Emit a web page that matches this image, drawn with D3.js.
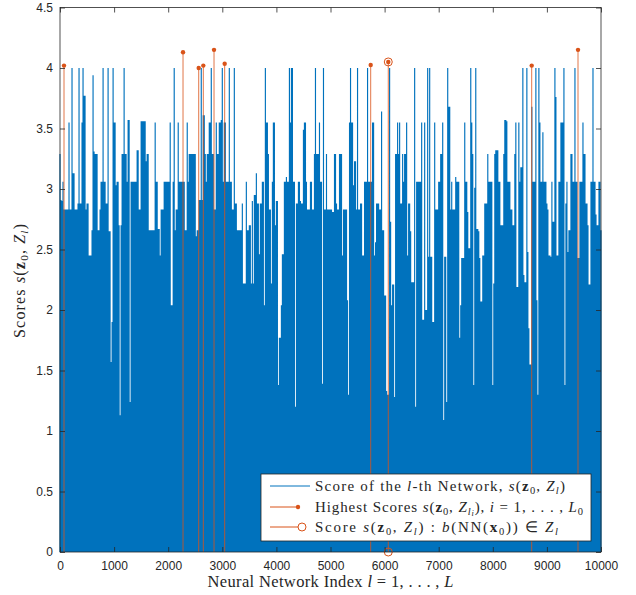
<!DOCTYPE html>
<html>
<head>
<meta charset="utf-8">
<script src="https://cdn.jsdelivr.net/npm/d3@7"></script>
<style>
    body { margin: 0; background: #fff; }
    svg text { fill: #262626; }
</style>
</head>
<body>
<div id="chart"></div>
<script>
// scores of the 10000 networks (one sample per screen pixel, ~18.5 networks each)
var scores = [
    3.29, 2.91, 2.90, 3.06, 2.83, 2.83, 2.83, 2.83, 2.83, 3.55, 2.83, 2.83, 4.0, 3.13, 3.13, 2.83, 2.83, 2.83, 2.88, 4.0,
    2.88, 2.88, 3.55, 4.0, 3.77, 3.77, 2.83, 2.88, 2.88, 2.45, 2.45, 2.45, 2.66, 3.94, 3.31, 3.29, 3.29, 3.29, 2.66, 2.66,
    2.83, 3.06, 3.06, 4.0, 3.06, 3.06, 2.88, 2.88, 4.0, 2.65, 2.65, 1.57, 1.90, 4.0, 3.55, 3.55, 3.03, 3.06, 3.06, 2.70,
    1.13, 2.70, 3.29, 3.29, 4.0, 3.29, 3.29, 3.06, 3.57, 3.57, 1.24, 3.06, 3.06, 3.06, 3.06, 3.06, 3.06, 3.32, 3.32, 2.83,
    2.83, 3.56, 3.56, 3.56, 3.56, 3.56, 3.23, 3.29, 3.29, 2.66, 2.66, 2.66, 2.66, 2.66, 2.66, 3.55, 3.06, 3.06, 2.67, 2.67,
    2.45, 2.83, 2.83, 2.83, 3.06, 3.06, 3.06, 3.06, 3.06, 3.06, 3.55, 2.04, 2.04, 3.06, 4.0, 2.66, 2.83, 2.83, 3.55, 3.06,
    3.06, 3.06, 3.06, 3.06, 3.06, 2.66, 2.66, 3.55, 3.06, 3.29, 3.29, 3.29, 3.29, 3.29, 3.29, 3.29, 2.61, 2.66, 2.66, 2.91,
    2.91, 4.0, 2.91, 3.61, 3.61, 3.29, 3.06, 3.29, 3.29, 3.55, 3.55, 4.0, 3.29, 3.29, 2.83, 2.83, 3.55, 3.29, 3.29, 3.55,
    3.55, 3.57, 4.0, 3.06, 3.55, 3.55, 3.06, 3.06, 3.06, 4.0, 3.06, 3.06, 2.83, 2.83, 4.0, 2.88, 2.88, 2.66, 2.66, 2.66,
    2.66, 2.66, 2.88, 2.22, 2.22, 2.22, 3.06, 2.66, 2.66, 2.70, 2.70, 2.22, 2.90, 2.22, 2.95, 2.95, 3.13, 2.88, 2.88, 2.46,
    2.88, 2.88, 3.06, 3.06, 2.04, 4.0, 3.55, 3.55, 3.29, 2.83, 2.83, 2.22, 3.06, 3.55, 3.55, 2.70, 2.90, 2.90, 1.38, 1.77,
    1.77, 2.04, 2.46, 2.46, 3.06, 3.06, 3.10, 3.06, 3.06, 4.0, 3.55, 4.0, 4.0, 3.06, 3.06, 1.2, 2.88, 2.88, 3.06, 3.06,
    2.90, 2.88, 2.88, 3.49, 3.55, 3.55, 3.06, 2.83, 2.83, 2.83, 3.06, 3.06, 2.83, 2.83, 3.29, 4.0, 3.29, 3.29, 3.29, 3.55,
    3.06, 3.06, 1.39, 4.0, 2.83, 2.83, 3.29, 2.83, 2.83, 2.83, 2.83, 2.83, 2.81, 2.81, 3.29, 3.29, 2.88, 2.83, 2.83, 3.29,
    3.29, 3.29, 2.45, 2.83, 2.83, 2.83, 2.83, 2.08, 1.30, 3.55, 4.0, 3.55, 3.55, 3.03, 3.23, 3.23, 2.83, 4.0, 2.83, 2.83,
    2.88, 2.88, 2.45, 2.45, 3.06, 3.06, 3.06, 4.0, 3.06, 3.06, 3.06, 3.06, 3.55, 3.55, 2.45, 2.56, 2.88, 2.88, 2.88, 2.83,
    2.83, 3.64, 2.66, 2.66, 2.12, 2.12, 1.33, 1.30, 1.30, 4.0, 2.73, 2.04, 2.21, 2.21, 1.28, 3.29, 3.29, 3.55, 3.29, 3.55,
    2.88, 2.88, 3.29, 3.06, 3.29, 3.29, 3.55, 2.45, 2.88, 2.88, 2.65, 2.23, 2.23, 2.23, 4.0, 1.2, 3.06, 3.06, 3.06, 3.06,
    3.06, 3.55, 1.92, 1.92, 3.55, 2.0, 2.0, 4.0, 2.44, 4.0, 2.44, 2.44, 1.90, 1.90, 3.55, 2.83, 2.83, 2.83, 3.06, 3.06,
    3.29, 3.29, 3.55, 1.09, 2.44, 2.44, 1.24, 4.0, 3.68, 3.68, 2.83, 3.06, 2.83, 2.83, 2.83, 3.10, 3.06, 3.06, 3.06, 1.77,
    2.04, 2.43, 2.43, 2.43, 3.55, 3.06, 3.06, 2.81, 2.51, 2.51, 4.0, 3.55, 3.29, 1.38, 3.01, 4.0, 2.67, 2.67, 2.65, 2.43,
    2.07, 2.07, 2.45, 2.45, 2.88, 2.88, 2.88, 3.29, 3.06, 3.06, 3.06, 3.06, 1.38, 2.22, 3.29, 3.32, 3.32, 3.32, 3.06, 3.06,
    2.70, 2.70, 2.70, 3.29, 3.57, 3.57, 3.56, 3.06, 3.06, 3.06, 2.83, 2.83, 2.70, 2.70, 3.29, 3.55, 2.19, 2.19, 3.55, 3.06,
    3.18, 3.18, 4.0, 2.29, 2.23, 2.23, 4.0, 2.48, 1.85, 1.55, 1.55, 3.68, 3.06, 3.06, 3.06, 4.0, 2.08, 1.30, 4.0, 3.55,
    3.06, 3.06, 3.47, 3.06, 3.06, 3.06, 2.88, 2.83, 2.45, 2.45, 2.44, 3.06, 2.73, 2.73, 4.0, 3.76, 2.45, 2.45, 3.06, 3.06,
    3.55, 3.55, 3.55, 4.0, 1.38, 2.88, 3.06, 2.48, 2.66, 2.66, 3.29, 3.29, 3.06, 3.06, 4.0, 3.06, 3.06, 2.43, 2.43, 3.06,
    3.06, 3.06, 3.55, 3.29, 3.29, 2.88, 2.88, 2.70, 2.21, 2.21, 3.06, 3.06, 4.0, 3.06, 3.06, 2.79, 2.70, 2.70, 3.06, 3.06,
    2.66
];

// the L0 = 10 highest scores
var topIdx    = [74, 2274, 2564, 2649, 2847, 3044, 5743, 6068, 8719, 9575];
var topScores = [4.02, 4.13, 4.0, 4.02, 4.15, 4.035, 4.025, 4.05, 4.02, 4.15];

// network whose set holds b(NN(x0))
var matchIdx = 6068,
    matchScore = 4.05;

var xTicks = [0, 1000, 2000, 3000, 4000, 5000, 6000, 7000, 8000, 9000, 10000];
var yTicks = [0, 0.5, 1, 1.5, 2, 2.5, 3, 3.5, 4, 4.5];

var width = 636,
    height = 595;

var blue = "#0072BD",
    red = "#D95319",
    axisColor = "#262626";

var svg = d3.select("#chart")
    .append("svg")
    .attr("width", width)
    .attr("height", height);

var x = d3.scaleLinear().domain([0, 10000]).range([60, 601]);
var y = d3.scaleLinear().domain([0, 4.5]).range([552, 7.5]);

var step = 10000 / (scores.length - 1);

// blue score trace, so dense that it reads as a solid fill down to 0
svg.append("path")
    .attr("d", scores.map(function (v, i) {
        return "M" + x(i * step) + "," + y(0) + "V" + y(v);
    }).join(""))
    .attr("stroke", blue)
    .attr("stroke-width", 1.15)
    .attr("fill", "none");

// red stems for the highest scores
var tops = topIdx.map(function (d, i) { return {idx: d, v: topScores[i]}; });

svg.selectAll(".stem")
    .data(tops)
    .enter().append("line")
    .attr("class", "stem")
    .attr("x1", function (d) { return x(d.idx); })
    .attr("x2", function (d) { return x(d.idx); })
    .attr("y1", y(0))
    .attr("y2", function (d) { return y(d.v); })
    .attr("stroke", red)
    .attr("stroke-width", 0.8);

// matching network, open circles at both ends
svg.selectAll(".match")
    .data([0, matchScore])
    .enter().append("circle")
    .attr("class", "match")
    .attr("cx", x(matchIdx))
    .attr("cy", function (d) { return y(d); })
    .attr("r", 4)
    .attr("fill", "none")
    .attr("stroke", red)
    .attr("stroke-width", 1);

svg.selectAll(".dot")
    .data(tops)
    .enter().append("circle")
    .attr("class", "dot")
    .attr("cx", function (d) { return x(d.idx); })
    .attr("cy", function (d) { return y(d.v); })
    .attr("r", 2.2)
    .attr("fill", red);

// axes, ticks pointing inwards on all four sides
function styleAxis(g) {
    g.select(".domain").remove();
    g.selectAll(".tick line").attr("stroke", axisColor).attr("stroke-width", 0.8);
    g.selectAll(".tick text")
        .attr("font-family", "'Liberation Sans', Arial, sans-serif")
        .attr("font-size", 12)
        .attr("fill", axisColor);
}

svg.append("g")
    .attr("transform", "translate(0," + y(0) + ")")
    .call(d3.axisBottom(x).tickValues(xTicks).tickFormat(d3.format("d")).tickSize(-5).tickPadding(9))
    .call(styleAxis);

svg.append("g")
    .attr("transform", "translate(0," + y(4.5) + ")")
    .call(d3.axisTop(x).tickValues(xTicks).tickFormat("").tickSize(-5))
    .call(styleAxis);

svg.append("g")
    .attr("transform", "translate(" + x(0) + ",0)")
    .call(d3.axisLeft(y).tickValues(yTicks).tickFormat(function (d) { return String(d); }).tickSize(-5).tickPadding(7))
    .call(styleAxis);

svg.append("g")
    .attr("transform", "translate(" + x(10000) + ",0)")
    .call(d3.axisRight(y).tickValues(yTicks).tickFormat("").tickSize(-5))
    .call(styleAxis);

svg.append("rect")
    .attr("x", x(0))
    .attr("y", y(4.5))
    .attr("width", x(10000) - x(0))
    .attr("height", y(0) - y(4.5))
    .attr("fill", "none")
    .attr("stroke", axisColor)
    .attr("stroke-width", 0.8);

// latex-ish text: parts are [text, style], style has i (italic), b (bold), s (one per sub level)
function mathText(sel, parts, size) {
    var shift = 0;
    parts.forEach(function (p) {
        var st = p[1] || "",
            lvl = (st.match(/s/g) || []).length,
            target = lvl === 0 ? 0 : (lvl === 1 ? size * 0.2 : size * 0.32);
        sel.append("tspan")
            .attr("dy", target - shift)
            .attr("font-style", st.indexOf("i") >= 0 ? "italic" : "normal")
            .attr("font-weight", st.indexOf("b") >= 0 ? "bold" : "normal")
            .attr("font-size", lvl === 0 ? size : (lvl === 1 ? size * 0.7 : size * 0.55))
            .text(p[0]);
        shift = target;
    });
}

var serif = "'Liberation Serif', 'Times New Roman', serif";

var xLabel = svg.append("text")
    .attr("x", (x(0) + x(10000)) / 2)
    .attr("y", 587)
    .attr("text-anchor", "middle")
    .attr("font-family", serif)
    .attr("textLength", 246)
    .attr("lengthAdjust", "spacing");
mathText(xLabel, [["Neural Network Index "], ["l", "i"], [" = 1, . . . , "], ["L", "i"]], 16.5);

var yLabel = svg.append("text")
    .attr("transform", "translate(25,281) rotate(-90)")
    .attr("text-anchor", "middle")
    .attr("font-family", serif)
    .attr("textLength", 114)
    .attr("lengthAdjust", "spacing");
mathText(yLabel, [["Scores "], ["s", "i"], ["("], ["z", "b"], ["0", "s"], [", "], ["Z", "i"], ["l", "si"], [")"]], 16);

// legend
var legend = svg.append("g");

legend.append("rect")
    .attr("x", 261)
    .attr("y", 474)
    .attr("width", 330)
    .attr("height", 67)
    .attr("fill", "#fff")
    .attr("stroke", axisColor)
    .attr("stroke-width", 0.8);

var rows = [486, 507, 527];

legend.append("line")
    .attr("x1", 270).attr("x2", 310)
    .attr("y1", rows[0]).attr("y2", rows[0])
    .attr("stroke", blue).attr("stroke-width", 1);

legend.append("line")
    .attr("x1", 270).attr("x2", 298)
    .attr("y1", rows[1]).attr("y2", rows[1])
    .attr("stroke", red).attr("stroke-width", 1);
legend.append("circle")
    .attr("cx", 298).attr("cy", rows[1]).attr("r", 2.2)
    .attr("fill", red);

legend.append("line")
    .attr("x1", 270).attr("x2", 298)
    .attr("y1", rows[2]).attr("y2", rows[2])
    .attr("stroke", red).attr("stroke-width", 1);
legend.append("circle")
    .attr("cx", 302).attr("cy", rows[2]).attr("r", 4)
    .attr("fill", "none").attr("stroke", red).attr("stroke-width", 1);

var legendText = [
    [["Score of the "], ["l", "i"], ["-th Network, "], ["s", "i"], ["("], ["z", "b"], ["0", "s"], [", "], ["Z", "i"], ["l", "si"], [")"]],
    [["Highest Scores "], ["s", "i"], ["("], ["z", "b"], ["0", "s"], [", "], ["Z", "i"], ["l", "si"], ["i", "ssi"], [")"], [", "], ["i", "i"], [" = 1, . . . , "], ["L", "i"], ["0", "s"]],
    [["Score "], ["s", "i"], ["("], ["z", "b"], ["0", "s"], [", "], ["Z", "i"], ["l", "si"], [") : "], ["b", "i"], ["(NN("], ["x", "b"], ["0", "s"], [")) \u2208 "], ["Z", "i"], ["l", "si"]]
];
var legendWidths = [250, 268, 243];

legendText.forEach(function (parts, i) {
    var t = legend.append("text")
        .attr("x", 315)
        .attr("y", rows[i] + 4.5)
        .attr("font-family", serif)
        .attr("textLength", legendWidths[i])
        .attr("lengthAdjust", "spacing");
    mathText(t, parts, 15);
});
</script>
</body>
</html>
